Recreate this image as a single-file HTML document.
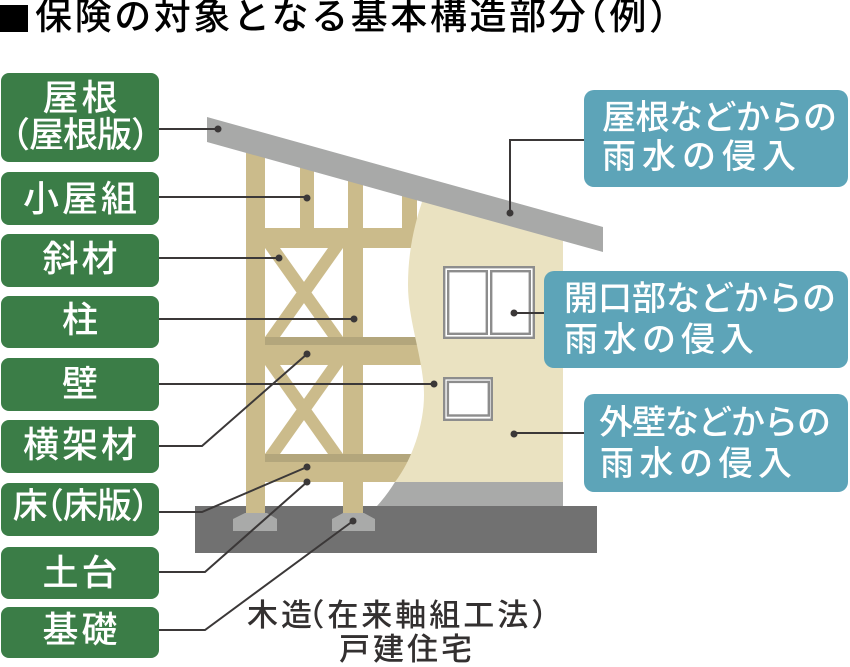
<!DOCTYPE html>
<html><head><meta charset="utf-8"><style>
*{margin:0;padding:0}
body{width:850px;height:664px;position:relative;overflow:hidden;background:#fff;font-family:"Liberation Sans","Noto Sans CJK JP",sans-serif;font-weight:500}
.t{position:absolute;white-space:nowrap}
.g{left:1px;width:158px;text-align:center;color:#fff;font-size:36px;line-height:36px;letter-spacing:3px;padding-left:3px;box-sizing:border-box}
.b{color:#fff;font-size:34px;line-height:34px}
.c{font-size:31px;line-height:31px;letter-spacing:3px;color:#333030}
</style></head><body>
<svg width="850" height="664" viewBox="0 0 850 664" style="position:absolute;left:0;top:0">
  <!-- foundation slab -->
  <rect x="195" y="506" width="402" height="47" fill="#717171"/>
  <!-- frame -->
  <g fill="#cbbb8b">
    <rect x="343" y="228" width="20" height="285"/>
    <rect x="300" y="150" width="14" height="80"/>
    <rect x="348" y="162" width="15" height="68"/>
    <rect x="402" y="176" width="15" height="54"/>
    <rect x="246" y="228" width="180" height="20"/>
    <rect x="246" y="337" width="185" height="28"/>
    <rect x="246" y="454" width="170" height="28"/>
    <polygon points="265,248 280,248 343,337 328,337"/>
    <polygon points="328,248 343,248 280,337 265,337"/>
    <polygon points="265,365 280,365 343,454 328,454"/>
    <polygon points="328,365 343,365 280,454 265,454"/>
  </g>
  <rect x="265" y="337" width="166" height="8" fill="#b3a67c"/>
  <rect x="265" y="454" width="151" height="8" fill="#b3a67c"/>
  <rect x="246" y="140" width="19" height="373" fill="#cbbb8b"/>
  <!-- wall -->
  <path d="M424 196 L563 235 L563 482 L395 482 C412 460 424 425 424 395 C424 360 408 322 408 285 C408 250 415 222 424 196 Z" fill="#eae2c1"/>
  <path d="M395 482 L563 482 L563 506 L377 506 Q387 495 395 482 Z" fill="#a9aaa9"/>
  <!-- roof -->
  <polygon points="207,117 603,227 603,252 207,142" fill="#a8a9a8"/>
  <!-- footings -->
  <polygon points="245,513 267,513 277,519 277,531 233,531 233,519" fill="#a9aaa9"/>
  <polygon points="343,513 364,513 375,519 375,531 332,531 332,519" fill="#a9aaa9"/>
  <!-- windows -->
  <g fill="#fff" stroke="#8d8d8d" stroke-width="2.4">
    <rect x="444.2" y="267.2" width="89.6" height="70.6"/>
    <rect x="448.2" y="271.2" width="38.6" height="62.6"/>
    <rect x="491.2" y="271.2" width="38.6" height="62.6"/>
    <rect x="444.2" y="378.2" width="47.6" height="41.6"/>
    <rect x="447.9" y="381.9" width="40.9" height="33.6"/>
  </g>
  <!-- label boxes -->
  <g fill="#3b7d47">
    <rect x="1" y="73" width="158" height="89" rx="8"/>
    <rect x="1" y="172" width="158" height="53" rx="8"/>
    <rect x="1" y="234" width="158" height="53" rx="8"/>
    <rect x="1" y="296" width="158" height="52" rx="8"/>
    <rect x="1" y="358" width="158" height="53" rx="8"/>
    <rect x="1" y="420" width="158" height="53" rx="8"/>
    <rect x="1" y="483" width="158" height="53" rx="8"/>
    <rect x="1" y="547" width="158" height="52" rx="8"/>
    <rect x="1" y="607" width="158" height="51" rx="8"/>
  </g>
  <g fill="#5da4b8">
    <rect x="584" y="90" width="264" height="97" rx="10"/>
    <rect x="544" y="271" width="304" height="97" rx="10"/>
    <rect x="584" y="394" width="264" height="98" rx="10"/>
  </g>
  <!-- connectors -->
  <g fill="none" stroke="#3b3838" stroke-width="2">
    <path d="M159 129 H218"/>
    <path d="M159 197 H307"/>
    <path d="M159 258 H279"/>
    <path d="M159 319 H354"/>
    <path d="M159 384 H434"/>
    <path d="M159 446 H202 L307 354"/>
    <path d="M159 512 H202 L307 467"/>
    <path d="M159 572 H205 L307 482"/>
    <path d="M159 630 H205 L353 521"/>
    <path d="M584 140 H510 V213"/>
    <path d="M544 313 H514"/>
    <path d="M584 433 H514"/>
  </g>
  <g fill="#3b3838">
    <circle cx="218" cy="129" r="3.5"/>
    <circle cx="307" cy="198" r="3.5"/>
    <circle cx="279" cy="258" r="3.5"/>
    <circle cx="354" cy="319" r="3.5"/>
    <circle cx="434" cy="384" r="3.5"/>
    <circle cx="307" cy="354" r="3.5"/>
    <circle cx="307" cy="467" r="3.5"/>
    <circle cx="307" cy="482" r="3.5"/>
    <circle cx="353" cy="521" r="3.5"/>
    <circle cx="510" cy="213" r="3.5"/>
    <circle cx="514" cy="313" r="3.5"/>
    <circle cx="514" cy="434" r="3.5"/>
  </g>
</svg>

<!-- title -->
<div class="t" style="left:0;top:5px;width:28px;height:27px;background:#000"></div>
<div class="t" style="left:35px;top:-2px;font-size:37px;line-height:37px;letter-spacing:2.6px;color:#000">保険の対象となる基本構造部分<span style="margin-left:-0.5em">（</span>例）</div>

<!-- green labels -->
<div class="t g" style="top:80px">屋根</div>
<div class="t g" style="top:118px;font-size:35px;line-height:35px;letter-spacing:-1px;padding-left:0"><span style="margin-left:-0.5em">（</span>屋根版<span style="margin-right:-0.5em">）</span></div>
<div class="t g" style="top:181px">小屋組</div>
<div class="t g" style="top:241px">斜材</div>
<div class="t g" style="top:302px">柱</div>
<div class="t g" style="top:366px">壁</div>
<div class="t g" style="top:427px">横架材</div>
<div class="t g" style="top:489px;font-size:35px;line-height:35px;letter-spacing:-1px;padding-left:0">床<span style="margin-left:-0.51em">（</span>床版<span style="margin-right:-0.5em">）</span></div>
<div class="t g" style="top:555px">土台</div>
<div class="t g" style="top:612px">基礎</div>

<!-- blue labels -->
<div class="t b" style="left:602px;top:101px;letter-spacing:-0.5px">屋根などからの</div>
<div class="t b" style="left:602px;top:140px;letter-spacing:6px">雨水の侵入</div>
<div class="t b" style="left:564px;top:282px;letter-spacing:0px">開口部などからの</div>
<div class="t b" style="left:564px;top:323px;letter-spacing:5px">雨水の侵入</div>
<div class="t b" style="left:599px;top:406px;letter-spacing:-1px">外壁などからの</div>
<div class="t b" style="left:600px;top:447px;letter-spacing:5.5px">雨水の侵入</div>

<!-- caption -->
<div class="t c" style="left:247px;top:600px">木造<span style="margin-left:-0.7em">（</span>在来軸組工法）</div>
<div class="t c" style="left:339px;top:634px">戸建住宅</div>
</body></html>
